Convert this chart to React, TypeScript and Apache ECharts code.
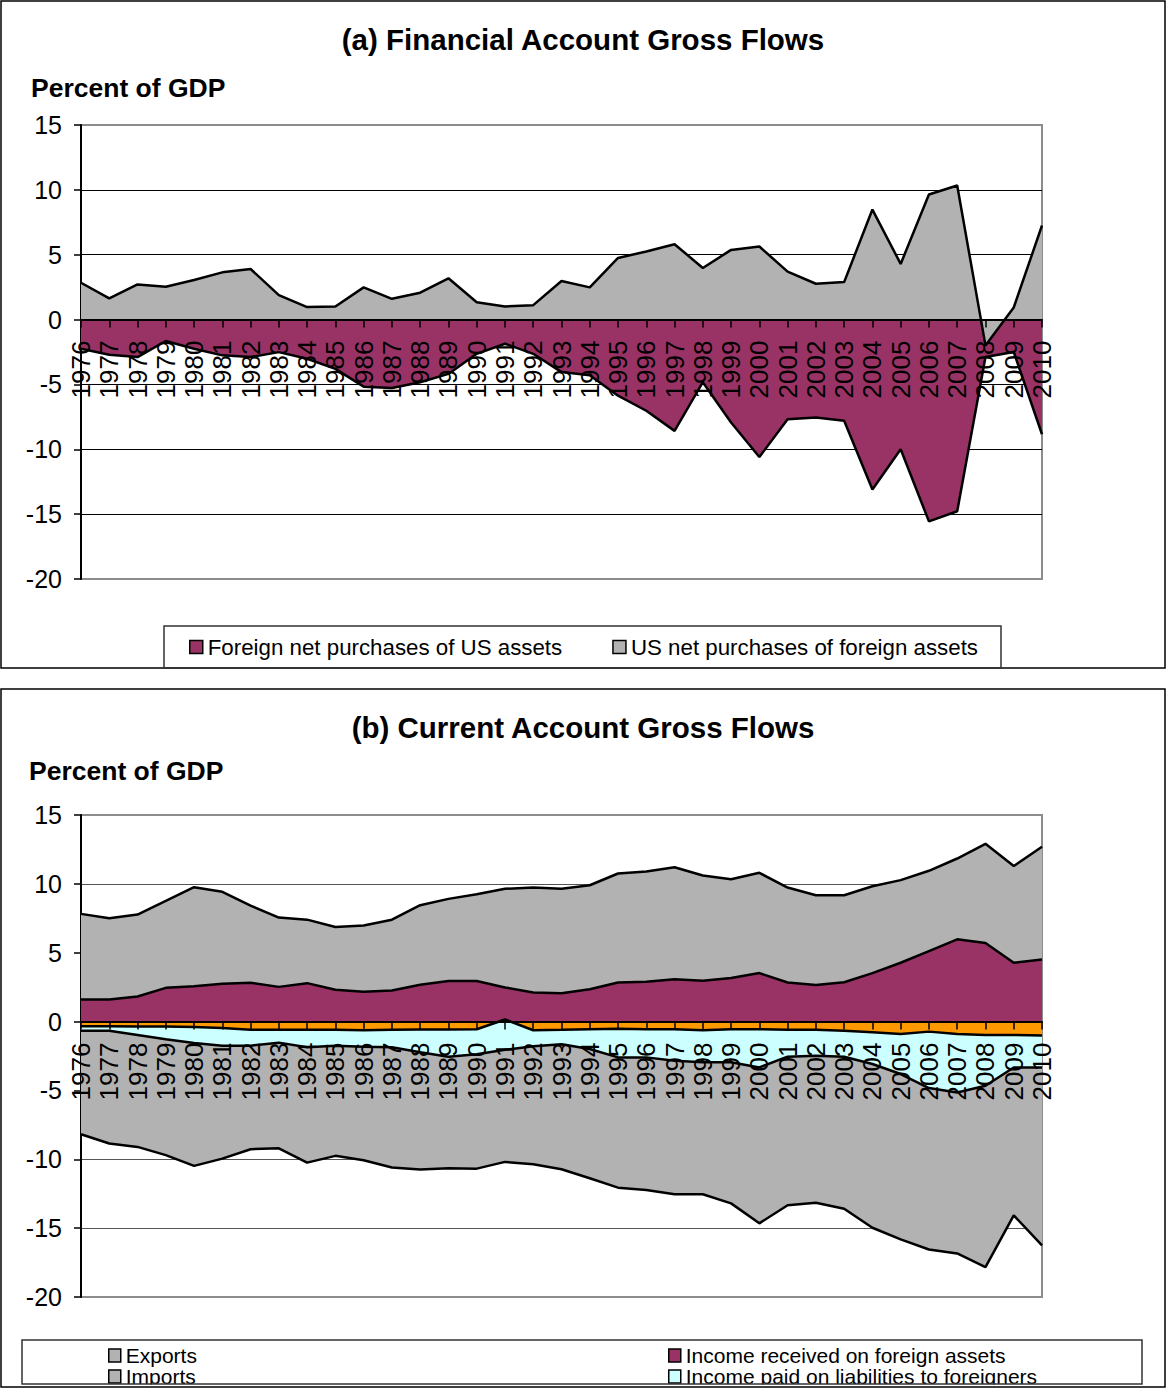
import React, { useEffect, useRef } from "react";
import * as echarts from "echarts";

const FF = "'Liberation Sans', Arial, Helvetica, sans-serif";

const years = [
  "1976", "1977", "1978", "1979", "1980", "1981", "1982", "1983", "1984", "1985",
  "1986", "1987", "1988", "1989", "1990", "1991", "1992", "1993", "1994", "1995",
  "1996", "1997", "1998", "1999", "2000", "2001", "2002", "2003", "2004", "2005",
  "2006", "2007", "2008", "2009", "2010",
];

// (a) Financial account gross flows, percent of GDP
const foreignPurchases = [
  -2.25, -2.71, -2.89, -1.65, -2.25, -2.76, -2.89, -2.51, -3.02, -3.8,
  -5.17, -5.27, -4.83, -4.19, -2.64, -1.86, -2.64, -4.05, -4.3, -5.87,
  -7.03, -8.58, -4.83, -7.93, -10.6, -7.68, -7.55, -7.8, -13.1, -10.0,
  -15.56, -14.78, -2.89, -2.5, -8.84,
];
const usPurchases = [
  2.84, 1.63, 2.71, 2.53, 3.05, 3.64, 3.9, 1.89, 0.96, 1.01,
  2.48, 1.6, 2.07, 3.18, 1.34, 1.01, 1.11, 2.97, 2.48, 4.75,
  5.25, 5.81, 3.98, 5.37, 5.63, 3.7, 2.76, 2.89, 8.48, 4.29,
  9.64, 10.34, -1.99, 0.93, 7.25,
];

// (b) Current account gross flows, percent of GDP
const exportsData = [
  7.82, 7.5, 7.77, 8.76, 9.76, 9.42, 8.42, 7.55, 7.4, 6.87,
  6.97, 7.4, 8.45, 8.91, 9.25, 9.64, 9.73, 9.64, 9.9, 10.75,
  10.9, 11.21, 10.61, 10.34, 10.8, 9.73, 9.17, 9.17, 9.83, 10.27,
  10.95, 11.84, 12.91, 11.29, 12.69,
];
const incomeReceived = [
  1.6, 1.6, 1.82, 2.45, 2.57, 2.74, 2.82, 2.52, 2.79, 2.31,
  2.16, 2.26, 2.67, 2.94, 2.94, 2.48, 2.11, 2.06, 2.35, 2.84,
  2.89, 3.08, 2.96, 3.16, 3.52, 2.84, 2.65, 2.86, 3.52, 4.27,
  5.12, 5.97, 5.7, 4.27, 4.51,
];
const importsData = [
  -8.18, -8.85, -9.1, -9.7, -10.48, -9.95, -9.27, -9.2, -10.24, -9.75,
  -10.07, -10.6, -10.75, -10.65, -10.68, -10.19, -10.36, -10.72, -11.38, -12.06,
  -12.23, -12.54, -12.54, -13.2, -14.65, -13.34, -13.15, -13.59, -14.97, -15.82,
  -16.55, -16.84, -17.83, -14.07, -16.25,
];
const incomePaid = [
  -0.66, -0.66, -0.97, -1.29, -1.55, -1.75, -1.75, -1.53, -1.87, -1.75,
  -1.82, -1.87, -2.23, -2.55, -2.38, -2.05, -1.8, -1.65, -1.99, -2.6,
  -2.6, -2.84, -2.96, -2.96, -3.33, -2.55, -2.48, -2.55, -3.08, -3.81,
  -4.83, -5.15, -4.66, -3.33, -3.33,
];
const netTransfers = [
  -0.34, -0.34, -0.36, -0.36, -0.39, -0.46, -0.6, -0.6, -0.6, -0.6,
  -0.63, -0.6, -0.58, -0.58, -0.56, 0.15, -0.63, -0.6, -0.56, -0.53,
  -0.56, -0.56, -0.63, -0.56, -0.56, -0.6, -0.6, -0.66, -0.78, -0.9,
  -0.73, -0.9, -0.97, -0.97, -1.02,
];

const yTickMin = -20;
const yTickMax = 15;
const yTickStep = 5;

const PURPLE = "#993366";
const GRAY = "#B2B2B2";
const CYAN = "#CCFFFF";
const ORANGE = "#FF9900";

const GRID_A = { top: 125, height: 454 };
const GRID_B = { top: 815, height: 482 };

function areaSeries(name: string, data: number[], fill: string, idx: number, z: number) {
  return {
    name,
    type: "line",
    xAxisIndex: idx,
    yAxisIndex: idx,
    data,
    symbol: "none",
    color: fill,
    itemStyle: { color: fill },
    lineStyle: { color: "#000", width: 2.5 },
    areaStyle: { color: fill, opacity: 1 },
    z,
  };
}

function xAxisFor(idx: number, gridHeight: number) {
  // place the category axis on the zero line: shift it up from the grid bottom
  const zeroOffset = -(gridHeight * (0 - yTickMin)) / (yTickMax - yTickMin);
  return {
    type: "category",
    gridIndex: idx,
    data: years,
    boundaryGap: false,
    position: "bottom",
    offset: zeroOffset,
    z: 10,
    axisLine: { onZero: false, lineStyle: { color: "#000", width: 2 } },
    axisTick: { show: true, inside: false, length: 8, interval: 0, lineStyle: { color: "#000", width: 1.5 } },
    axisLabel: { interval: 0, rotate: 90, margin: 21, fontSize: 26, fontFamily: FF, color: "#000" },
    splitLine: { show: false },
  };
}

function yAxisFor(idx: number, gridColor: string) {
  return {
    type: "value",
    gridIndex: idx,
    min: yTickMin,
    max: yTickMax,
    interval: yTickStep,
    axisLine: { show: true, onZero: false, lineStyle: { color: "#000", width: 2 } },
    axisTick: { show: true, length: 7, lineStyle: { color: "#000", width: 1.5 } },
    axisLabel: { margin: 19, fontSize: 25, fontFamily: FF, color: "#000" },
    splitLine: { show: true, showMinLine: false, showMaxLine: false, lineStyle: { color: gridColor, width: 1 } },
  };
}

const titleStyle = (size: number) => ({
  fontFamily: FF,
  fontSize: size,
  fontWeight: "bold",
  color: "#000",
  lineHeight: size,
});

export default function App() {
  const ref = useRef<HTMLDivElement>(null);

  useEffect(() => {
    if (!ref.current) return;
    const chart = echarts.init(ref.current, undefined, { renderer: "svg" });
    const legendIcon = { borderColor: "#000", borderWidth: 1.5 };
    const option: any = {
      animation: false,
      backgroundColor: "#ffffff",
      title: [
        { text: "(a) Financial Account Gross Flows", left: "center", top: 25, padding: 0, textStyle: titleStyle(29.5) },
        { text: "Percent of GDP", left: 31, top: 75, padding: 0, textStyle: titleStyle(26.5) },
        { text: "(b) Current Account Gross Flows", left: "center", top: 713, padding: 0, textStyle: titleStyle(29.5) },
        { text: "Percent of GDP", left: 29, top: 758, padding: 0, textStyle: titleStyle(26.5) },
      ],
      grid: [
        { left: 81, right: 124, top: GRID_A.top, height: GRID_A.height, show: true, borderColor: "#8c8c8c", borderWidth: 2, backgroundColor: "transparent" },
        { left: 81, right: 124, top: GRID_B.top, height: GRID_B.height, show: true, borderColor: "#8c8c8c", borderWidth: 2, backgroundColor: "transparent" },
      ],
      xAxis: [xAxisFor(0, GRID_A.height), xAxisFor(1, GRID_B.height)],
      yAxis: [yAxisFor(0, "#000"), yAxisFor(1, "#555")],
      legend: [
        {
          data: [
            { name: "Foreign net purchases of US assets", icon: "rect" },
            { name: "US net purchases of foreign assets", icon: "rect" },
          ],
          left: 189,
          top: 636,
          padding: 0,
          itemWidth: 13,
          itemHeight: 13,
          itemGap: 50,
          itemStyle: legendIcon,
          textStyle: { fontFamily: FF, fontSize: 22.3, color: "#000" },
        },
        {
          data: [
            { name: "Exports", icon: "rect" },
            { name: "Imports", icon: "rect" },
          ],
          orient: "vertical",
          left: 108,
          top: 1345,
          padding: 0,
          itemWidth: 12,
          itemHeight: 13,
          itemGap: 0,
          itemStyle: legendIcon,
          textStyle: { fontFamily: FF, fontSize: 21, lineHeight: 20, color: "#000" },
        },
        {
          data: [
            { name: "Income received on foreign assets", icon: "rect" },
            { name: "Income paid on liabilities to foreigners", icon: "rect" },
          ],
          orient: "vertical",
          left: 668,
          top: 1345,
          padding: 0,
          itemWidth: 12,
          itemHeight: 13,
          itemGap: 0,
          itemStyle: legendIcon,
          textStyle: { fontFamily: FF, fontSize: 21, lineHeight: 20, color: "#000" },
        },
      ],
      graphic: [
        { type: "rect", z: 100, silent: true, shape: { x: 0, y: 1384.5, width: 1166, height: 5 }, style: { fill: "#fff", stroke: "none" } },
        { type: "rect", z: 101, silent: true, shape: { x: 1, y: 1, width: 1164, height: 667 }, style: { fill: "none", stroke: "#000", lineWidth: 1.5 } },
        { type: "rect", z: 101, silent: true, shape: { x: 1, y: 689, width: 1164, height: 698 }, style: { fill: "none", stroke: "#000", lineWidth: 1.5 } },
        { type: "rect", z: 101, silent: true, shape: { x: 164, y: 626, width: 837, height: 42 }, style: { fill: "none", stroke: "#333", lineWidth: 1.5 } },
        { type: "rect", z: 101, silent: true, shape: { x: 22, y: 1340, width: 1120, height: 44 }, style: { fill: "none", stroke: "#333", lineWidth: 1.5 } },
      ],
      series: [
        areaSeries("Foreign net purchases of US assets", foreignPurchases, PURPLE, 0, 2),
        areaSeries("US net purchases of foreign assets", usPurchases, GRAY, 0, 3),
        areaSeries("Exports", exportsData, GRAY, 1, 2),
        areaSeries("Income received on foreign assets", incomeReceived, PURPLE, 1, 3),
        areaSeries("Imports", importsData, GRAY, 1, 2),
        areaSeries("Income paid on liabilities to foreigners", incomePaid, CYAN, 1, 3),
        areaSeries("Net unilateral transfers", netTransfers, ORANGE, 1, 4),
      ],
    };
    chart.setOption(option);
    return () => chart.dispose();
  }, []);

  return (
    <div
      ref={ref}
      style={{ position: "absolute", left: 0, top: 0, width: 1166, height: 1389, background: "#fff" }}
    />
  );
}
